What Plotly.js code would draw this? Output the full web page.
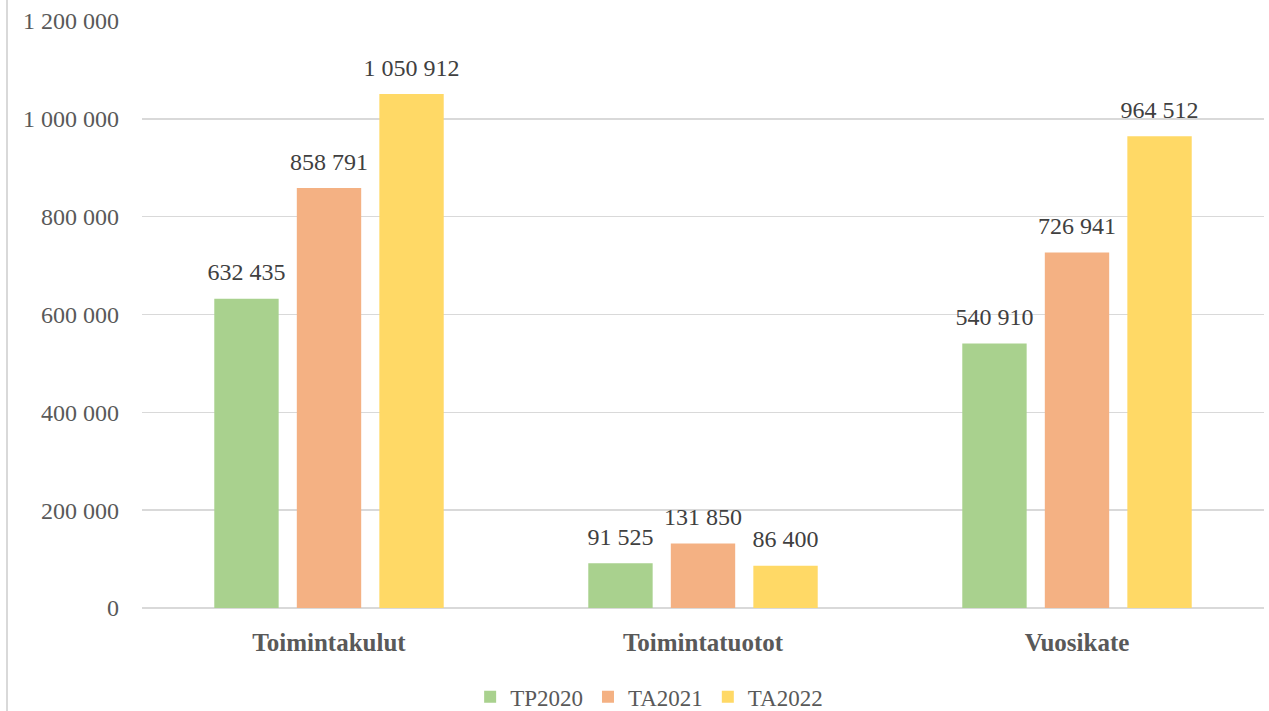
<!DOCTYPE html>
<html>
<head>
<meta charset="utf-8">
<script src="https://cdn.plot.ly/plotly-3.0.1.min.js"></script>
<style>html,body{margin:0;padding:0;background:#fff;}#chart{width:1269px;height:711px;}</style>
</head>
<body>
<div id="chart"></div>
<script>
const categories = ["Toimintakulut", "Toimintatuotot", "Vuosikate"];
const seriesNames = ["TP2020", "TA2021", "TA2022"];
const tp2020 = [632435, 91525, 540910];
const ta2021 = [858791, 131850, 726941];
const ta2022 = [1050912, 86400, 964512];
const yTicks = [0, 200000, 400000, 600000, 800000, 1000000, 1200000];
const colors = ["#a9d18e", "#f4b183", "#ffd966"];

const FONT = "'Liberation Serif', 'DejaVu Serif', serif";
const allSeries = [tp2020, ta2021, ta2022];
const bars = allSeries.map((vals, i) => ({
  type: "bar",
  name: seriesNames[i],
  x: categories,
  y: vals,
  offsetgroup: String(i),
  marker: {color: colors[i]},
  hoverinfo: "skip"
}));
const labels = allSeries.map((vals, i) => ({
  type: "scatter",
  mode: "markers+text",
  name: seriesNames[i] + " labels",
  showlegend: false,
  x: categories,
  y: vals,
  offsetgroup: String(i),
  texttemplate: "%{y:,d}",
  textposition: "top center",
  marker: {size: 18, color: "rgba(0,0,0,0)"},
  textfont: {family: FONT, size: 24, color: "#404040"},
  cliponaxis: false,
  hoverinfo: "skip"
}));

const layout = {
  width: 1269, height: 711,
  margin: {l: 142, r: 5, t: 21, b: 103, autoexpand: false},
  paper_bgcolor: "#fff", plot_bgcolor: "#fff",
  separators: ", ",
  barmode: "group",
  scattermode: "group",
  bargap: 0.338,
  bargroupgap: 0.22,
  scattergap: 0.338,
  font: {family: FONT, color: "#595959"},
  xaxis: {
    type: "category",
    showgrid: false, zeroline: false, showline: false,
    ticks: "",
    ticklabelstandoff: 17,
    tickfont: {family: FONT, size: 25, color: "#595959", weight: "bold"}
  },
  yaxis: {
    range: [0, 1200000],
    tickvals: yTicks,
    tickformat: ",d",
    showgrid: true, gridcolor: "#d9d9d9", gridwidth: 1.5,
    zeroline: true, zerolinecolor: "#d9d9d9", zerolinewidth: 1.5,
    showline: false, ticks: "",
    ticklabelstandoff: 22,
    tickfont: {family: FONT, size: 24, color: "#595959"}
  },
  legend: {
    orientation: "h",
    x: 0.452, xanchor: "center",
    yref: "container",
    y: 0.02, yanchor: "middle",
    font: {family: FONT, size: 23, color: "#595959"},
    itemwidth: 30,
    traceorder: "normal"
  },
  shapes: [{
    type: "line", xref: "paper", yref: "paper",
    x0: -0.1203, x1: -0.1203, y0: -0.2, y1: 1.04,
    line: {color: "#d9d9d9", width: 2}
  }],
  showlegend: true
};

Plotly.newPlot("chart", bars.concat(labels), layout, {displayModeBar: false, staticPlot: true});
</script>
</body>
</html>
